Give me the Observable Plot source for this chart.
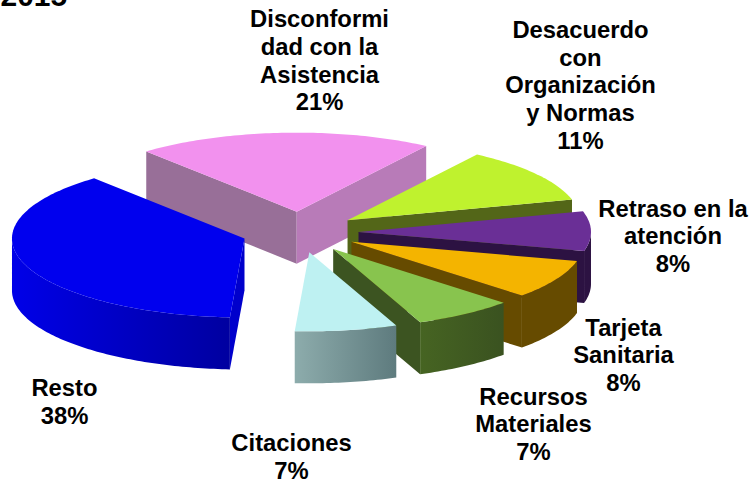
<!DOCTYPE html>
<html><head><meta charset="utf-8">
<style>html,body{margin:0;padding:0;background:#fff}svg{display:block}</style>
<script src="https://cdn.jsdelivr.net/npm/d3@7"></script>
<script src="https://cdn.jsdelivr.net/npm/@observablehq/plot@0.6"></script>
</head><body>
<script>
const categories = ["Resto","Disconformidad","Desacuerdo","Retraso","Tarjeta","Recursos","Citaciones"];
const shares = [37.8, 20.6, 11.4, 8.1, 8, 7, 7.1];
const labels = ["Resto\n38%","Disconformi\ndad con la\nAsistencia\n21%","Desacuerdo\ncon\nOrganización\ny Normas\n11%","Retraso en la\natención\n8%","Tarjeta\nSanitaria\n8%","Recursos\nMateriales\n7%","Citaciones\n7%"];
const topColors = ["#0000ee","#f291ee","#bff22e","#6a2f96","#f4b400","#88c44e","#bef1f2"];
const rimLeft = ["#0000e8","#a070a0","#536618","#2c1242","#664b00","#466422","#8dacac"];
const rimRight = ["#0000a0","#b87bb8","#536618","#2c1242","#664b00","#3a5220","#5e7b7e"];
const startWall = ["#0000cc","#986f98",null,null,null,null,null];
const endWall = [null,"#b87bb8","#536618","#2c1242","#664b00","#3c5421",null];
const paintOrder = [1,0,2,3,4,5,6];
const labelX = [64,319,580,672.5,623,533,291];
const labelY = [400.5,59.5,84,235,354,423,455.5];
const yearLabel = "2015";

// layout of the tilted pie
const cx = 299.5, cy = 231.6, Rx = 232.5, Ry = 79, tilt = 0.35, explode = 58.5, depth = 52, startDeg = 93.6;
const rad = Math.PI / 180;
const arcs = d3.pie().sort(null).startAngle(startDeg * rad).endAngle((startDeg + 360) * rad)(shares);

const polys = [];
let pid = 0;
const addPoly = (pts, fill) => { pid++; pts.forEach(([x, y]) => polys.push({id: pid, x, y, fill})); };

paintOrder.forEach(i => {
  const a0 = arcs[i].startAngle, a1 = arcs[i].endAngle, mid = (a0 + a1) / 2;
  const ax = cx + explode * Math.cos(mid), ay = cy + explode * tilt * Math.sin(mid);
  const rim = a => [ax + Rx * Math.cos(a), ay + Ry * Math.sin(a)];
  const n = Math.ceil((a1 - a0) / rad);
  const angles = d3.range(n + 1).map(j => a0 + (a1 - a0) * j / n);
  const pts = angles.map(rim);
  if (Math.cos(a0) < 0 && startWall[i]) {
    const [x, y] = rim(a0);
    addPoly([[ax, ay], [x, y], [x, y + depth], [ax, ay + depth]], startWall[i]);
  }
  if (Math.cos(a1) > 0 && endWall[i]) {
    const [x, y] = rim(a1);
    addPoly([[ax, ay], [x, y], [x, y + depth], [ax, ay + depth]], endWall[i]);
  }
  const front = pts.filter((p, j) => Math.sin(angles[j]) >= -0.001);
  if (front.length > 1) {
    addPoly([...front, ...front.slice().reverse().map(([x, y]) => [x, y + depth])], `url(#rim${i})`);
  }
  addPoly([[ax, ay], ...pts], topColors[i]);
});

const labelRows = labels.map((text, i) => ({name: categories[i], text, x: labelX[i], y: labelY[i]}));

const defs = () => {
  const svgNS = "http://www.w3.org/2000/svg";
  const d = document.createElementNS(svgNS, "defs");
  categories.forEach((_, i) => {
    const g = document.createElementNS(svgNS, "linearGradient");
    g.setAttribute("id", `rim${i}`);
    [[0, rimLeft[i]], [1, rimRight[i]]].forEach(([o, c]) => {
      const s = document.createElementNS(svgNS, "stop");
      s.setAttribute("offset", o);
      s.setAttribute("stop-color", c);
      g.appendChild(s);
    });
    d.appendChild(g);
  });
  return d;
};

const chart = Plot.plot({
  width: 752, height: 482, margin: 0,
  x: {domain: [0, 752], range: [0, 752], axis: null},
  y: {domain: [0, 482], range: [0, 482], axis: null},
  color: {type: "identity"},
  marks: [
    defs,
    Plot.line(polys, {x: "x", y: "y", z: "id", fill: "fill", stroke: "none", curve: "linear"}),
    Plot.text(labelRows, {x: "x", y: "y", text: "text", fontSize: 23.8, fontWeight: "bold", fontFamily: "Liberation Sans", fill: "#000", lineHeight: 1.16, textAnchor: "middle"}),
    Plot.text([yearLabel], {x: () => 0, y: () => 5, text: d => d, fontSize: 30, fontWeight: "bold", fontFamily: "Liberation Sans", fill: "#000", textAnchor: "start", lineAnchor: "bottom"})
  ]
});
document.body.appendChild(chart);
</script>
</body></html>
